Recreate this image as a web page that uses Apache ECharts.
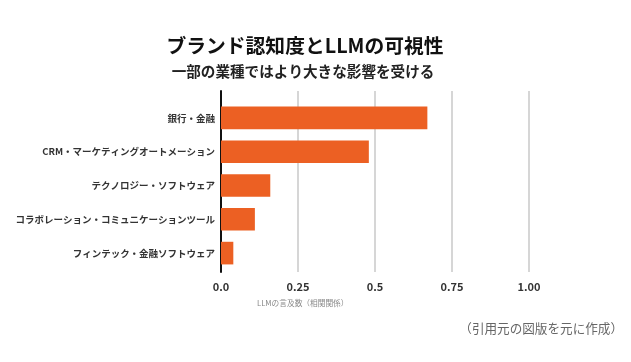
<!DOCTYPE html>
<html><head><meta charset="utf-8">
<script src="https://cdn.jsdelivr.net/npm/echarts@6/dist/echarts.min.js"></script>
<style>html,body{margin:0;padding:0;background:#fff}#c{width:631px;height:362px}</style>
</head><body><div id="c"></div>
<script>
const categories = ['銀行・金融','CRM・マーケティングオートメーション','テクノロジー・ソフトウェア','コラボレーション・コミュニケーションツール','フィンテック・金融ソフトウェア'];
const values = [0.67, 0.48, 0.16, 0.11, 0.04];
const tickLabels = {'0':'0.0','0.25':'0.25','0.5':'0.5','0.75':'0.75','1':'1.00'};
const titleText = 'ブランド認知度とLLMの可視性';
const subtitleText = '一部の業種ではより大きな影響を受ける';
const axisNameText = 'LLMの言及数（相関関係）';
const sourceText = '（引用元の図版を元に作成）';

const font = '"Noto Sans CJK JP","Noto Sans",sans-serif';
const chart = echarts.init(document.getElementById('c'));
chart.setOption({
  animation:false,
  textStyle:{fontFamily:font},
  title:[
    {text:titleText,left:300,top:31,textAlign:'center',textStyle:{fontSize:19.8,fontWeight:'bold',color:'#111',fontFamily:font}},
    {text:subtitleText,left:298,top:59,textAlign:'center',textStyle:{fontSize:14.6,fontWeight:'bold',color:'#222',fontFamily:font}}
  ],
  grid:[
    {left:221,right:102,top:91,bottom:90},
    {left:221,right:102,top:101,bottom:92}
  ],
  xAxis:[
    {gridIndex:0,type:'value',min:0,max:1,interval:0.25,
     axisLine:{show:false},axisTick:{show:false},
     splitLine:{show:true,lineStyle:{color:'#c8c8c8',width:1.5}},
     axisLabel:{margin:9,fontSize:11,fontWeight:'bold',color:'#333',fontFamily:font,
       formatter:v=>tickLabels[String(v)]||String(v)}},
    {gridIndex:1,type:'value',min:0,max:1,show:false}
  ],
  yAxis:[
    {gridIndex:0,type:'value',min:0,max:1,axisLine:{show:true,onZero:false,lineStyle:{color:'#111',width:2}},
     axisLabel:{show:false},axisTick:{show:false},splitLine:{show:false}},
    {gridIndex:1,type:'category',inverse:true,data:categories,
     axisLine:{show:false},axisTick:{show:false},
     axisLabel:{margin:6,fontSize:9.5,fontWeight:'bold',color:'#333',fontFamily:font}}
  ],
  series:[{type:'bar',xAxisIndex:1,yAxisIndex:1,data:values,barWidth:'67%',
    itemStyle:{color:'#EC6023'},z:1}],
  graphic:[
    {type:'text',left:257,top:299,style:{text:axisNameText,fontSize:7.7,fill:'#888',fontFamily:font}},
    {type:'text',right:8,top:322,style:{text:sourceText,fontSize:12.6,fill:'#666',fontFamily:font}}
  ]
});
</script></body></html>
